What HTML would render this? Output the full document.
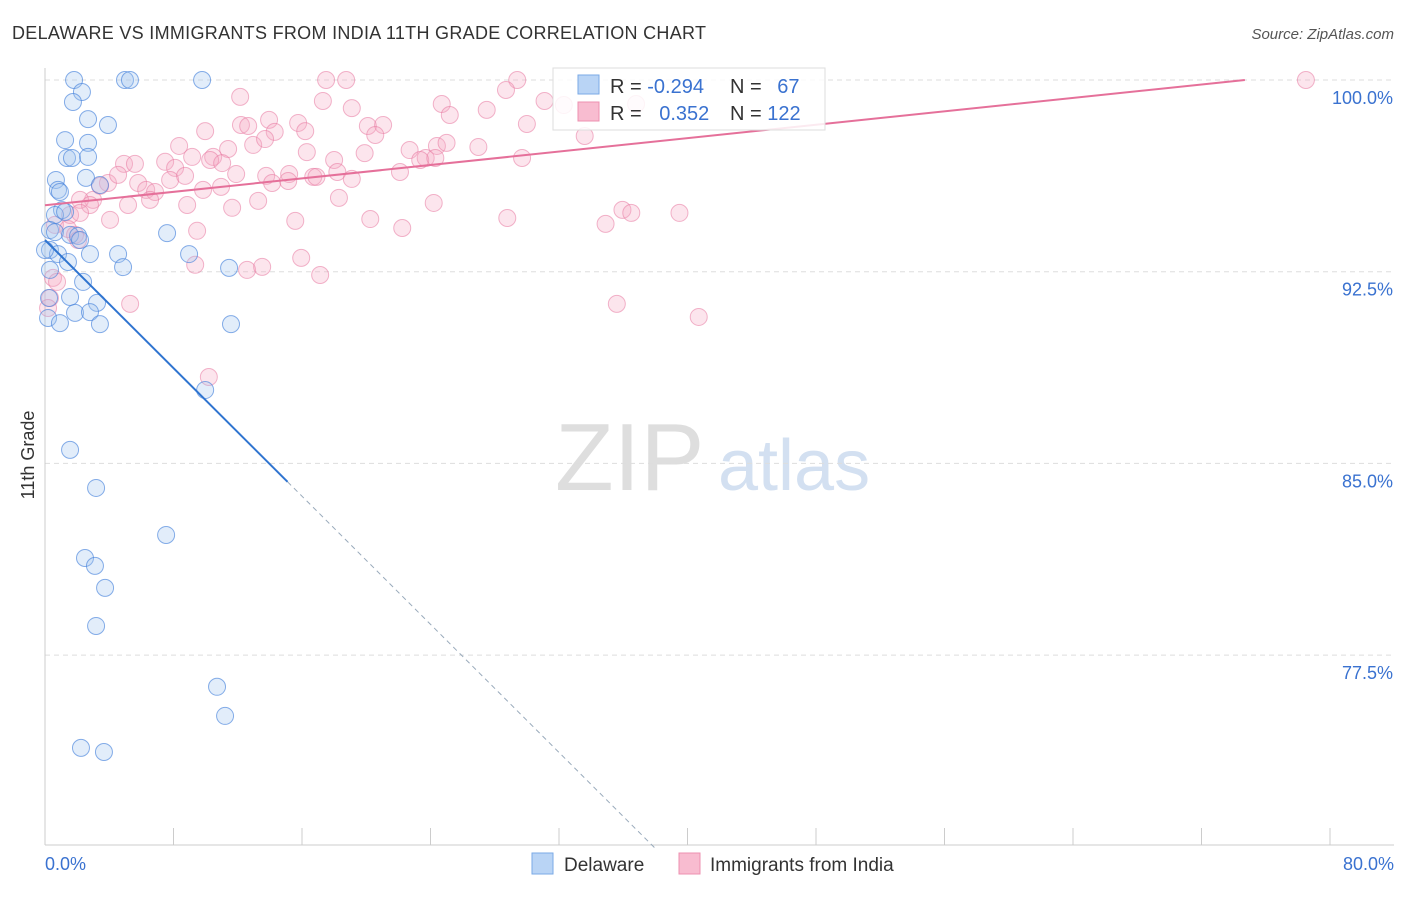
<!DOCTYPE html>
<html><head><meta charset="utf-8">
<style>
body{margin:0;background:#fff;font-family:"Liberation Sans",sans-serif;}
svg text{font-family:"Liberation Sans",sans-serif;}
</style></head>
<body>
<svg id="chart" width="1406" height="892">
<text x="12" y="39" font-size="18" fill="#333" textLength="694">DELAWARE VS IMMIGRANTS FROM INDIA 11TH GRADE CORRELATION CHART</text>
<text x="1394" y="39" font-size="15" fill="#555" font-style="italic" text-anchor="end">Source: ZipAtlas.com</text>
<text x="555" y="490" font-size="96" fill="#dedede" font-family="Liberation Serif">ZIP</text>
<text x="718" y="490" font-size="72" fill="#d3e0f1">atlas</text>
<g id="grid"></g>
<g id="axes"></g>
<g id="pts"></g>
<g id="lines"></g>
<text x="34" y="455" font-size="18" fill="#333" text-anchor="middle" transform="rotate(-90 34 455)">11th Grade</text>
<g>
<rect x="553" y="68" width="272" height="62" fill="rgba(255,255,255,0.85)" stroke="#ddd"/>
<rect x="578" y="75" width="21" height="19" fill="#b9d4f5" stroke="#7aaae6"/>
<rect x="578" y="102" width="21" height="19" fill="#f8bcd0" stroke="#ee90b0"/>
<text x="610" y="93" font-size="20" fill="#333">R = <tspan fill="#3a72d0">-0.294</tspan></text>
<text x="730" y="93" font-size="20" fill="#333">N = <tspan fill="#3a72d0" dx="10">67</tspan></text>
<text x="610" y="120" font-size="20" fill="#333">R = <tspan fill="#3a72d0" dx="12">0.352</tspan></text>
<text x="730" y="120" font-size="20" fill="#333">N = <tspan fill="#3a72d0">122</tspan></text>
</g>
<g>
<rect x="532" y="853" width="21" height="21" fill="#b9d4f5" stroke="#7aaae6"/>
<text x="564" y="871" font-size="19" fill="#333">Delaware</text>
<rect x="679" y="853" width="21" height="21" fill="#f8bcd0" stroke="#ee90b0"/>
<text x="710" y="871" font-size="19" fill="#333">Immigrants from India</text>
</g>
</svg>
<script>
const yTicks=[100,92.5,85,77.5];
const yTickLabels=["100.0%","92.5%","85.0%","77.5%"];
const xTickLabels=["0.0%","80.0%"];
const blueX=[1.81,4.98,5.29,9.78,2.30,1.74,3.92,2.68,1.25,2.68,1.37,1.68,2.68,0.68,2.55,0.81,0.93,3.42,1.06,0.62,1.25,0.31,0.62,1.56,2.06,2.18,0.31,0.81,2.80,4.55,1.43,4.86,7.60,8.97,11.46,2.37,0.25,1.56,3.24,0.19,0.93,1.87,2.80,3.42,11.58,9.97,1.56,3.18,7.54,2.49,3.11,3.74,3.18,10.71,11.21,2.24,3.67,0,0.31];
const blueY=[100,100,100,100,99.53,99.14,98.24,98.47,97.65,97.54,96.95,96.95,96.99,96.09,96.17,95.70,95.62,95.89,94.91,94.72,94.84,94.13,94.05,93.94,93.90,93.74,93.35,93.19,93.19,93.19,92.88,92.68,94.01,93.19,92.65,92.10,91.47,91.51,91.28,90.69,90.49,90.89,90.92,90.45,90.45,87.87,85.53,84.04,82.20,81.30,80.99,80.13,78.64,76.26,75.12,73.87,73.71,93.35,92.57];
const pinkX=[17.5,18.75,29.4,78.5,12.15,17.3,19.1,24.7,27.5,28.7,31.1,32.3,36.8,9.97,12.2,13.95,15.76,14.3,16.2,12.65,20.1,21.05,8.35,10.47,11.4,12.96,13.7,16.3,18.0,19.9,20.56,22.7,23.7,24.4,25.0,23.36,26.98,29.7,30.0,33.6,25.2,4.92,5.6,7.48,8.1,9.16,10.28,11.03,11.9,13.77,15.2,14.14,15.14,16.7,16.9,18.2,19.1,22.1,24.3,3.92,4.55,5.8,6.3,6.85,7.79,8.72,9.84,10.96,3.43,2.99,2.18,2.8,5.17,6.54,8.85,11.65,13.27,18.3,24.2,4.05,9.47,15.58,20.25,22.24,28.78,34.9,35.95,36.5,39.5,1.56,2.18,0.62,1.43,1.87,2.06,9.35,12.58,13.52,15.95,17.13,5.3,35.6,40.7,10.2,0.5,0.75,0.31,0.19];
const pinkY=[100,100,100,100,99.34,99.18,98.9,99.06,98.83,99.61,99.18,99.02,99.06,98.0,98.24,98.44,98.32,97.97,98.0,98.2,98.2,98.24,97.42,96.99,97.3,97.46,97.69,97.18,96.87,97.14,97.85,97.26,96.95,97.42,97.54,96.87,97.38,96.95,98.28,97.81,98.63,96.72,96.72,96.8,96.56,96.99,96.87,96.75,96.32,96.25,96.32,95.97,96.05,96.21,96.21,96.4,96.13,96.4,96.95,95.97,96.29,95.97,95.7,95.62,96.09,96.25,95.7,95.82,95.86,95.31,95.31,95.11,95.11,95.31,95.11,95.0,95.27,95.39,95.19,94.53,94.1,94.49,94.56,94.21,94.6,94.37,94.92,94.8,94.8,94.72,94.8,94.33,94.17,93.94,93.74,92.77,92.57,92.69,93.04,92.37,91.24,91.24,90.73,88.38,92.26,92.1,91.47,91.08];
const blueTrend=[93.74,-0.6265];
const pinkTrend=[95.1,0.0656];
const X0=45,X1=1330,Y100=80,PX75=191.7,YB=845;
function sx(v){return X0+(v/80)*(X1-X0);}
function sy(v){return Y100+(100-v)/7.5*PX75;}
const NS="http://www.w3.org/2000/svg";
function mk(tag,attrs,parent){const e=document.createElementNS(NS,tag);for(const k in attrs)e.setAttribute(k,attrs[k]);parent.appendChild(e);return e;}
const grid=document.getElementById('grid'),axes=document.getElementById('axes'),pts=document.getElementById('pts'),lines=document.getElementById('lines');
yTicks.forEach((t,i)=>{
 const l=mk('line',{x1:X0,x2:1394,y1:sy(t),y2:sy(t),stroke:'#ddd','stroke-dasharray':'5,4'},grid);
 
 
 const tx=mk('text',{x:1393,y:sy(t)+24,'font-size':18,fill:'#3a72d0','text-anchor':'end'},axes);
 tx.textContent=yTickLabels[i];
 
 
});
const al=mk('line',{x1:X0,x2:X0,y1:68,y2:YB,stroke:'#ccc'},axes);


const bl=mk('line',{x1:X0,x2:1394,y1:YB,y2:YB,stroke:'#ccc'},axes);


for(let i=0;i<=10;i++){const x=X0+i*(X1-X0)/10;const tk=mk('line',{x1:x,x2:x,y1:828,y2:YB,stroke:'#ccc'},axes);
 
 }
[[0,'start',45],[80,'end',1394]].forEach((d,i)=>{const t=mk('text',{x:d[2],y:870,'font-size':18,fill:'#3a72d0','text-anchor':d[1]},axes);t.textContent=xTickLabels[i];
 
 });
pinkX.forEach((x,i)=>{const c=mk('circle',{cx:sx(x),cy:sy(pinkY[i]),r:8.5,fill:'rgba(246,170,196,0.3)',stroke:'rgba(232,120,160,0.55)'},pts);
 
 });
blueX.forEach((x,i)=>{const c=mk('circle',{cx:sx(x),cy:sy(blueY[i]),r:8.5,fill:'rgba(160,196,240,0.3)',stroke:'rgba(70,130,220,0.65)'},pts);
 
 });
const bf=v=>blueTrend[0]+blueTrend[1]*v;
const b1=mk('line',{x1:sx(0),y1:sy(bf(0)),x2:sx(15.1),y2:sy(bf(15.1)),stroke:'#2f74d0','stroke-width':2},lines);


const b2=mk('line',{x1:sx(15.1),y1:sy(bf(15.1)),x2:sx(38),y2:sy(bf(38)),stroke:'#9ab','stroke-width':1,'stroke-dasharray':'5,4'},lines);


const pf=v=>pinkTrend[0]+pinkTrend[1]*v;
const pl=mk('line',{x1:sx(0),y1:sy(pf(0)),x2:sx(74.7),y2:sy(pf(74.7)),stroke:'#e5709a','stroke-width':2},lines);


</script>
</body></html>
